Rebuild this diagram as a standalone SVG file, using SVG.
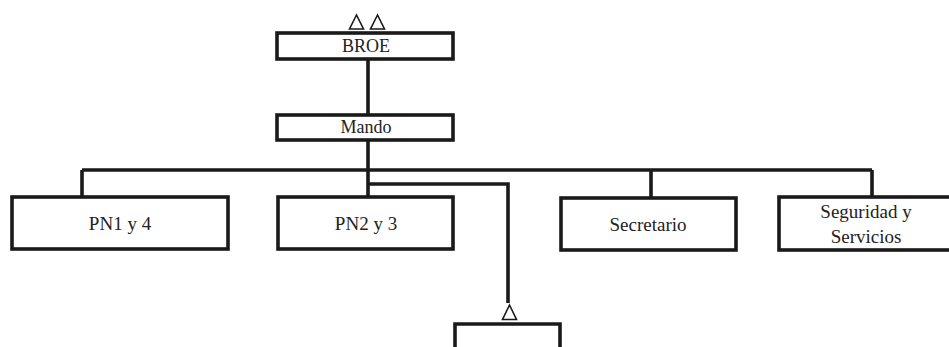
<svg xmlns="http://www.w3.org/2000/svg" width="949" height="347" viewBox="0 0 949 347">
<style>
.box{fill:#fff;stroke:#1a1a1a;stroke-width:3.6}
.ln{fill:none;stroke:#1a1a1a;stroke-width:3.6}
.tri{fill:#fff;stroke:#1a1a1a;stroke-width:1.6}
text{font-family:"Liberation Serif","Times New Roman",serif;fill:#222;text-anchor:middle}
.s{font-size:18px}
.m{font-size:19px}
</style>
<rect width="949" height="347" fill="#fff"/>
<g id="connectors">
<path class="ln" d="M368 59V115M368 140V197M82 170H872M82 170V197M651 170V198M872 170V197M368 184H508V303"/>
</g>
<g id="broe">
<polygon class="tri" points="356.5,15 349.5,29 363.5,29"/>
<polygon class="tri" points="377.5,15 370.5,29 384.5,29"/>
<rect class="box" x="277" y="33" width="176" height="26"/>
<text class="s" x="366" y="52">BROE</text>
</g>
<g id="mando">
<rect class="box" x="277" y="115" width="176" height="25"/>
<text class="s" x="366" y="133">Mando</text>
</g>
<g id="pn14">
<rect class="box" x="12" y="197" width="216" height="52"/>
<text class="m" x="120" y="230">PN1 y 4</text>
</g>
<g id="pn23">
<rect class="box" x="278" y="197" width="175" height="52"/>
<text class="m" x="366" y="230">PN2 y 3</text>
</g>
<g id="secretario">
<rect class="box" x="561" y="198" width="175" height="52"/>
<text class="m" x="648" y="231">Secretario</text>
</g>
<g id="seguridad">
<rect class="box" x="779" y="197" width="190" height="53"/>
<text class="m" x="866" y="218">Seguridad y</text>
<text class="m" x="866" y="243">Servicios</text>
</g>
<g id="sub">
<polygon class="tri" points="509.5,305 502.5,319.5 516.5,319.5"/>
<path class="ln" d="M455 352V324H560V352"/>
</g>
</svg>
